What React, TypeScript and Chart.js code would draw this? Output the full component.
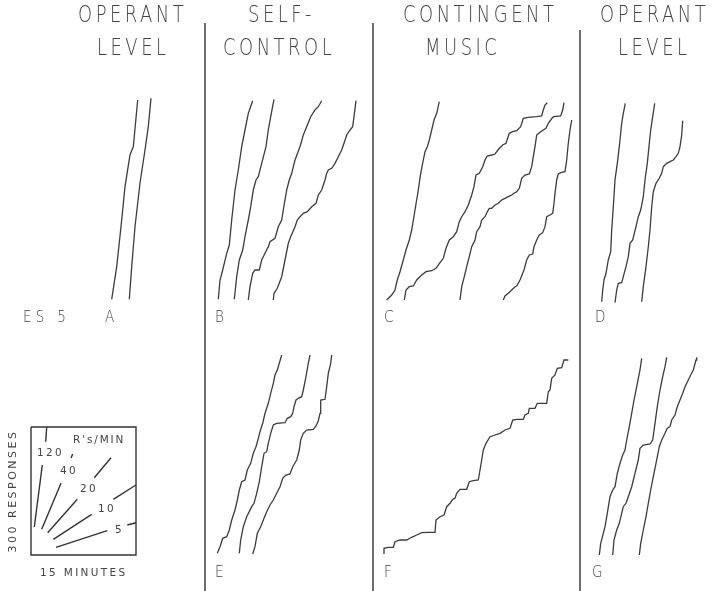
import React, { useEffect, useRef } from "react";
import { Chart, registerables } from "chart.js";
Chart.register(...registerables);

// ---- Cumulative records (x, y, in figure units) ----
const curveA1 = [[111.7,299.3],[116.7,266.7],[121.7,220],[125,186.7],[130,155],[133.3,146.7],[137.7,100]];
const curveA2 = [[129.3,299.3],[131.7,266.7],[135,226.7],[140,183],[145,150],[148.3,126.7],[151,98.3]];

const curveB1 = [[218.3,299.3],[220,280],[222.7,270],[226.7,253.3],[229.3,245],[231.7,220],[235,190],[238.3,170],[241.7,146.7],[245,130],[248.3,113.3],[252.7,100.7]];
const curveB2 = [[234.3,299.3],[236.7,276.7],[239.3,260],[242.7,250],[245,236.7],[248.3,220],[250.7,206.7],[253.3,190],[256,180],[258.3,176.7],[261.7,163.3],[266,146.7],[268.3,130],[270.7,116.7],[274,99.3]];
const curveB3 = [[248.3,300],[250,286.7],[252.7,273.3],[255,270],[259.3,270],[261.7,260],[265,253.3],[268.3,246.7],[270,241.7],[275,238.3],[278.3,226.7],[281.7,220],[283.3,210],[286.7,190],[289.3,180],[291.7,173.3],[295,160],[300,146.7],[303.3,135],[306.7,126.7],[310.7,116.7],[315,110],[318.3,106.7],[321.7,100.7]];
const curveB4 = [[273.3,300],[274,293.3],[277.3,288.3],[281.7,276.7],[285,260],[288.3,243.3],[290.7,236.7],[295,226.7],[297.3,220],[300,216.7],[303.3,213.3],[307.3,211.7],[311.7,206.7],[316,203.3],[318.3,195],[321.7,190],[325,180],[326.7,173.3],[328.3,170],[331.7,168.3],[335,163.3],[338.3,156.7],[341.7,150],[344,143.3],[346.7,135],[350,130],[352.7,126.7],[354,116.7],[356,100.7]];

const curveC1 = [[386.7,300],[391.7,295],[395,290],[397.3,280],[400,271.7],[403.3,260],[406,250],[409.3,240],[411.7,230],[415,210],[418.3,190],[420.7,173.3],[423.3,160],[425,151.7],[427.3,146.7],[429.3,140],[431.7,130],[434,120],[436.7,113.3],[439.3,101.7]];
const curveC2 = [[404.3,300],[406,290],[409.3,286.7],[413.3,286],[416.7,280],[421.7,275],[426,271.7],[431.7,270.7],[436,268.3],[440,262.7],[443.3,258.3],[446,248.3],[449.3,240],[453.3,236.7],[456.7,231.7],[459.3,221.7],[461.7,216.7],[465,211.7],[468.3,205],[471.7,195],[474,186.7],[476,175],[479.3,173.3],[482.7,166.7],[485,160],[487.3,156],[491.7,155],[495,154],[499.3,148.3],[502.7,145],[506,143.3],[509.3,133.3],[512.7,131.7],[516.7,130.7],[520.7,126.7],[523.3,118.3],[528.3,117.3],[536.7,116.7],[541.7,116],[543.3,110],[545,105],[547.3,102.7]];
const curveC3 = [[460,300],[461.7,286.7],[464.3,276.7],[466.7,266.7],[469.3,256.7],[471.7,246.7],[475,240],[476.7,231.7],[480,226.7],[481.7,220],[485,216.7],[487.3,211.7],[489.3,208.3],[491.7,208.3],[495,205],[498.3,203.3],[501.7,200],[505,198.3],[508.3,196.7],[511.7,195],[514,193.3],[516.7,191.7],[519.3,188.3],[521.7,178.3],[525,175],[529.3,174],[531.7,166.7],[533.3,156.7],[535,146.7],[536.7,135],[539.3,132.7],[543.3,130],[546,128.3],[548.3,123.3],[552.7,117.3],[554,116.7],[560.7,116],[562.7,110],[564,102.7]];
const curveC4 = [[503.3,300],[505,296],[508.3,293.3],[511.7,290],[515,286.7],[516.7,286],[520,280],[524,270],[526.7,260],[529.3,255],[532.7,254],[534,246.7],[536.7,240],[539.3,235],[542.7,232.7],[545,226.7],[546.7,216.7],[550,215],[552.7,213.3],[554,203.3],[555,193.3],[556.7,180],[558.3,174],[560.7,172.7],[565,171.7],[566.7,160],[568.3,143.3],[570,130],[571.7,120]];

const curveD1 = [[601.7,301.7],[602.7,290],[604,280],[606,273.3],[608.3,260],[610.7,251.7],[611.7,230],[613.3,206.7],[615,180],[617.3,163.3],[619.3,146.7],[621.7,123.3],[623.3,113.3],[625.3,103.3]];
const curveD2 = [[615,302.7],[616.7,290],[618.3,283.3],[621.7,282.7],[623.3,276.7],[626,266.7],[628.3,256.7],[630,243.3],[632.7,240],[636,226.7],[638.3,216.7],[640.7,210],[643.3,196.7],[645,180],[647.3,163.3],[649.3,143.3],[650.7,130],[652.7,116.7],[654.7,103.3]];
const curveD3 = [[641.7,301.7],[643.3,286.7],[646,266.7],[648.3,246.7],[650,230],[651.7,206.7],[653.3,191.7],[656,183.3],[659.3,178.3],[661.7,173.3],[663.3,166.7],[666.7,163.3],[670,161.7],[673.3,160],[676,156.7],[678.3,153.3],[680,146.7],[681.7,135],[682.7,120.7]];

const curveE1 = [[217.3,553.3],[220,546.7],[222.7,538.3],[226.7,536.7],[229.3,530],[231.7,520],[235,510],[237.3,500],[239.3,490],[241.7,481.7],[245,480],[247.3,470],[250.7,463.3],[253.3,453.3],[256,446.7],[258.3,438.3],[260,431.7],[262.7,423.3],[265,413.3],[268.3,403.3],[270.7,393.3],[273.3,383.3],[275,375],[277.3,370],[279.3,363.3],[281.7,355]];
const curveE2 = [[239.3,553.3],[240.7,540],[243.3,526.7],[246.7,516.7],[251.7,506.7],[254,503.3],[256.7,493.3],[259.3,481.7],[261.7,466.7],[264,453.3],[266.7,451.7],[268.3,443.3],[270.7,433.3],[273.3,425],[276.7,423.3],[285,422.7],[287.3,418.3],[290.7,416.7],[292.7,413.3],[294,406.7],[296,400],[298.3,398.3],[301.7,396.7],[303.3,390],[306,376.7],[308.3,363.3],[310,355]];
const curveE3 = [[252.7,554],[255,546.7],[257.3,533.3],[260.7,526.7],[264,518.3],[266.7,511.7],[270,505],[273.3,500],[276.7,493.3],[280,486.7],[282.7,478.3],[286,475],[290,474],[292.7,466.7],[296.7,460],[299.3,450],[300.7,440],[303.3,433.3],[306.7,430],[313.3,429.3],[316,426],[318.3,420.7],[320,413.3],[320.7,400],[325,399.3],[326.7,386.7],[328.3,373.3],[330.7,363.3],[331.7,355]];

const curveF = [[383.3,553.3],[384,548.3],[388.3,547.3],[393.3,547.3],[395,541.7],[400,540],[406.7,540],[411.7,537.3],[416.7,535],[421.7,532.7],[428.3,532.3],[435,532.3],[436,520],[440,516.7],[444,515],[446.7,506.7],[450,503.3],[452.7,499.3],[455,498.3],[456.7,493.3],[460,489.3],[466.7,489.3],[469.3,481.7],[473.3,480.7],[478.3,480],[480,470],[481.7,460],[483.3,450],[486,443.3],[490,436.7],[495,435],[500,433.3],[505,430],[510,428.3],[512.7,420],[516.7,419.3],[523.3,419.3],[525,415],[528.3,413.3],[529.3,408.3],[535,408.3],[537.3,403.3],[546.7,403.3],[548.3,391.7],[550,390],[551.7,378.3],[555,375],[557.3,368.3],[561.7,367.7],[564,360],[568.3,360]];

const curveG1 = [[599.3,555],[600.7,543.3],[603.3,533.3],[605,526.7],[607.3,513.3],[610,496.7],[612.7,490],[615,486.7],[617.3,473.3],[620,463.3],[622.7,455],[625,450],[626.7,440],[629.3,426.7],[631.7,413.3],[634,400],[636.7,386.7],[638.3,378.3],[640,370],[641.7,358.3]];
const curveG2 = [[612.7,555],[614,540],[616.7,530],[619.3,523.3],[621.7,513.3],[623.3,506.7],[626,503.3],[628.3,496.7],[631.7,486.7],[635,473.3],[638.3,460],[640,448.3],[643.3,445],[650,444],[652.7,440],[655,423.3],[657.3,406.7],[660,390],[662.7,376.7],[665,366.7],[666.7,357.3]];
const curveG3 = [[639.3,555],[640.7,543.3],[643.3,530],[646,516.7],[648.3,503.3],[650.7,490],[653.3,476.7],[656,463.3],[659.3,446.7],[661.7,440],[665,433.3],[667.3,428.3],[670,426.7],[671.7,420],[675,415],[677.3,406.7],[680,400],[682.7,393.3],[685,386.7],[688.3,380],[690.7,375],[693.3,370],[696,360],[696.7,357.3]];

// ---- Phase dividers and rate key ----
const dividers = [[205, 23], [373, 23], [580, 30]];
const keyBox = [[31, 427], [136, 427], [136, 555], [31, 555], [31, 427]];
const keySegments = [
  [[46.7,427.3],[45.7,441.7]], [[42.3,465],[34.3,527]],
  [[72.7,454],[71,458]], [[61,483.3],[41.7,529.3]],
  [[111,457.7],[94.3,477.7]], [[77.3,499.3],[47.7,532.7]],
  [[136,485],[113.3,499.3]], [[91.7,514.3],[53.3,539.3]],
  [[136,522.7],[127.3,525]], [[107.3,530.7],[56,547.3]],
];

const headerLines = ["OPERANT", "LEVEL", "SELF-", "CONTROL", "CONTINGENT", "MUSIC", "OPERANT", "LEVEL"];
const panelLetters = ["A", "B", "C", "D", "E", "F", "G"];
const subjectLabel = "ES 5";
const rateLabels = ["R's/MIN", "120", "40", "20", "10", "5"];
const keyAxisLabels = ["300 RESPONSES", "15 MINUTES"];

// layout of the text (figure units)
const headerPos = [[78, 16.5], [97, 49], [248, 16.5], [223, 49], [403, 16.5], [425, 49], [600, 16.5], [618, 49]];
const letterPos = [[105, 318], [215, 318], [384, 318], [595, 318], [215, 573], [384, 573], [592, 573]];
const ratePos = [[73, 440], [37, 453], [60, 471], [80, 489], [98, 509], [115, 530]];

const records = [curveA1, curveA2, curveB1, curveB2, curveB3, curveB4, curveC1, curveC2, curveC3, curveC4, curveD1, curveD2, curveD3, curveE1, curveE2, curveE3, curveF, curveG1, curveG2, curveG3];

const INK = "#3c3c3c";
const TEXT = "#444444";

function toPts(arr: number[][]) {
  return arr.map(([x, y]) => ({ x, y }));
}

const textPlugin = {
  id: "figureText",
  afterDraw(chart: any) {
    const ctx = chart.ctx as CanvasRenderingContext2D;
    const sx = chart.scales.x;
    const sy = chart.scales.y;
    const put = (s: string, x: number, y: number, size: number, spacing: number, squeeze: number, weight = "200") => {
      ctx.save();
      ctx.font = `${weight} ${size}px "DejaVu Sans"`;
      (ctx as any).letterSpacing = `${spacing}px`;
      ctx.fillStyle = TEXT;
      ctx.textBaseline = "middle";
      ctx.textAlign = "left";
      ctx.translate(sx.getPixelForValue(x), sy.getPixelForValue(y));
      ctx.scale(squeeze, 1);
      ctx.fillText(s, 0, 0);
      ctx.restore();
    };
    headerLines.forEach((s, i) => put(s, headerPos[i][0], headerPos[i][1], 23, 4.5, 0.78));
    panelLetters.forEach((s, i) => put(s, letterPos[i][0], letterPos[i][1], 16, 0, 0.85));
    put(subjectLabel, 23, 318, 16, 5, 0.85);
    rateLabels.forEach((s, i) => put(s, ratePos[i][0], ratePos[i][1], 11, i === 0 ? 2 : 2.5, 0.95, "400"));
    put(keyAxisLabels[1], 40, 573, 11, 2.5, 0.95, "400");
    ctx.save();
    ctx.font = `400 11px "DejaVu Sans"`;
    (ctx as any).letterSpacing = "2.5px";
    ctx.fillStyle = TEXT;
    ctx.textBaseline = "middle";
    ctx.textAlign = "center";
    ctx.translate(sx.getPixelForValue(13), sy.getPixelForValue(491));
    ctx.rotate(-Math.PI / 2);
    ctx.fillText(keyAxisLabels[0], 0, 0);
    ctx.restore();
  },
};

export default function App() {
  const ref = useRef<HTMLCanvasElement | null>(null);
  useEffect(() => {
    document.body.style.margin = "0";
    document.body.style.background = "#ffffff";
    const line = (data: number[][], width: number, color = INK) => ({
      data: toPts(data),
      showLine: true,
      borderColor: color,
      borderWidth: width,
      pointRadius: 0,
      fill: false,
      tension: 0,
    });
    const datasets: any[] = [];
    records.forEach((r) => datasets.push(line(r, 1.3)));
    dividers.forEach(([x, top]) => datasets.push(line([[x, top], [x, 591]], 1.4, "#333333")));
    datasets.push(line(keyBox, 1.4, "#333333"));
    keySegments.forEach((s) => datasets.push(line(s, 1.4, "#333333")));
    const chart = new Chart(ref.current as HTMLCanvasElement, {
      type: "scatter",
      data: { datasets },
      options: {
        animation: false,
        responsive: false,
        devicePixelRatio: 1,
        layout: { padding: 0 },
        plugins: { legend: { display: false }, tooltip: { enabled: false } },
        scales: {
          x: { type: "linear", min: 0, max: 717, display: false },
          y: { type: "linear", min: 0, max: 591, reverse: true, display: false },
        },
      },
      plugins: [textPlugin],
    });
    return () => chart.destroy();
  }, []);
  return (
    <div style={{ width: 717, height: 591, background: "#fff" }}>
      <canvas ref={ref} width={717} height={591} style={{ display: "block" }} />
    </div>
  );
}
